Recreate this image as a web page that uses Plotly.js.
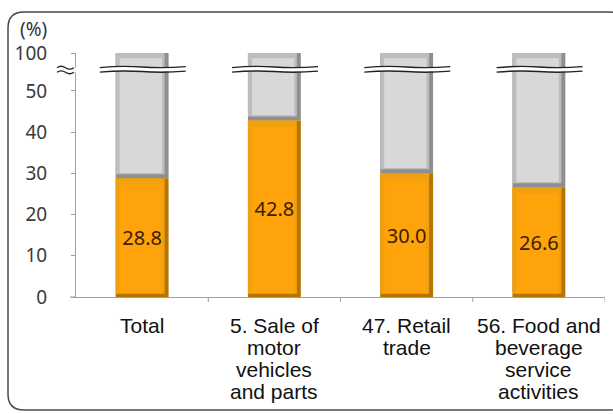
<!DOCTYPE html>
<html>
<head>
<meta charset="utf-8">
<script src="https://cdn.plot.ly/plotly-3.0.1.min.js"></script>
<style>html,body{margin:0;padding:0;background:#fff;}#chart{width:613px;height:414px;}</style>
</head>
<body>
<div id="chart"></div>
<script>
// ---- data ----
const categories = ["Total", "5. Sale of<br>motor<br>vehicles<br>and parts", "47. Retail<br>trade", "56. Food and<br>beverage<br>service<br>activities"];
const shares = [28.8, 42.8, 30.0, 26.6];
const totalValue = 100;
const tickValues = [0, 10, 20, 30, 40, 50, 100];
const tickLabels = ["0", "10", "20", "30", "40", "50", "100"];

// broken axis: 0-50 linear, 50-100 compressed
const BREAK_LOW = 50;
const COMPRESS = 9.2 / 50;
function disp(v) { return v <= BREAK_LOW ? v : BREAK_LOW + (v - BREAK_LOW) * COMPRESS; }
const TOP = disp(totalValue);
const BREAK_Y = 55.2;

const xs = categories.map((c, i) => i);
const outerW = 0.4, innerW = 0.34;

const traces = [
  // gray part (remainder up to 100), with a simple bevel look
  { type: 'bar', x: xs, base: shares.map(disp), y: shares.map(v => TOP - disp(v)), width: outerW,
    marker: { color: '#8f8f8f', line: { width: 0 } }, hoverinfo: 'skip' },
  { type: 'bar', x: xs.map(i => i - 0.015), base: shares.map(v => disp(v) + 1.0), y: shares.map(v => TOP - disp(v) - 1.0), width: 0.37,
    marker: { color: '#bdbdbd', line: { width: 0 } }, hoverinfo: 'skip' },
  { type: 'bar', x: xs.map(i => i - 0.01), base: shares.map(v => disp(v) + 1.3), y: shares.map(v => TOP - disp(v) - 2.6), width: innerW - 0.02,
    marker: { color: '#d8d8d8', line: { width: 0 } }, hoverinfo: 'skip' },
  // orange part (share)
  { type: 'bar', x: xs, base: shares.map(() => 0), y: shares.map(disp), width: outerW,
    marker: { color: '#b87400', line: { width: 0 } }, hoverinfo: 'skip' },
  { type: 'bar', x: xs.map(i => i - 0.015), base: shares.map(() => 0.8), y: shares.map(v => disp(v) - 0.8), width: 0.37,
    marker: { color: '#f0a010', line: { width: 0 } }, hoverinfo: 'skip' },
  { type: 'bar', x: xs.map(i => i - 0.01), base: shares.map(() => 0.9), y: shares.map(v => disp(v) - 2.4), width: innerW - 0.02,
    marker: { color: '#ffa30a', line: { width: 0 } }, hoverinfo: 'skip' },
  // value labels
  { type: 'bar', x: xs, base: shares.map(() => 0), y: shares.map(disp), width: outerW,
    marker: { color: 'rgba(0,0,0,0)', line: { width: 0 } },
    text: shares.map(v => v.toFixed(1)), textposition: 'inside', insidetextanchor: 'middle',
    constraintext: 'none',
    textfont: { family: 'Noto Sans, DejaVu Sans, sans-serif', size: 20, color: '#3a2000' },
    hoverinfo: 'skip' }
];

// shapes: break marks + frame
const shapes = [];
const ax0 = 76, ax1 = 605, ay0 = 297, ay1 = 53;
const px = p => (p - ax0) / (ax1 - ax0);
const py = p => (ay0 - p) / (ay0 - ay1);
// rounded frame
{
  const L = px(8), R = px(625), T = py(12), B = py(410);
  const rx = 16 / (ax1 - ax0), ry = 16 / (ay0 - ay1);
  shapes.push({ type: 'path', xref: 'paper', yref: 'paper', layer: 'below',
    path: `M ${L + rx},${T} L ${R - rx},${T} Q ${R},${T} ${R},${T - ry} L ${R},${B + ry} Q ${R},${B} ${R - rx},${B} L ${L + rx},${B} Q ${L},${B} ${L},${B + ry} L ${L},${T - ry} Q ${L},${T} ${L + rx},${T} Z`,
    line: { color: '#4a4a4a', width: 1.5 }, fillcolor: 'rgba(0,0,0,0)' });
}
// break marks on bars
xs.forEach(i => {
  const a = i - 0.32, b = i + 0.33, m = i;
  shapes.push({ type: 'rect', xref: 'x', yref: 'y', x0: a, x1: b, y0: BREAK_Y - 0.5, y1: BREAK_Y + 0.6,
    fillcolor: '#ffffff', line: { width: 0 } });
  [BREAK_Y + 0.6, BREAK_Y - 0.5].forEach(yy => {
    shapes.push({ type: 'path', xref: 'x', yref: 'y',
      path: `M ${a},${yy - 0.15} Q ${(a + m) / 2},${yy + 0.35} ${m},${yy} T ${b},${yy + 0.1}`,
      line: { color: '#222', width: 1.4 } });
  });
});
// break marks on y axis
{
  const a = px(57), b = px(74), m = (a + b) / 2;
  const yc = py(70), d = 2.3 / (ay0 - ay1);
  shapes.push({ type: 'rect', xref: 'paper', yref: 'paper', x0: a, x1: px(77), y0: yc - d, y1: yc + d,
    fillcolor: '#ffffff', line: { width: 0 } });
  [yc + d, yc - d].forEach(yy => {
    shapes.push({ type: 'path', xref: 'paper', yref: 'paper',
      path: `M ${a},${yy} Q ${(a + m) / 2},${yy + 0.012} ${m},${yy} T ${b},${yy}`,
      line: { color: '#222', width: 1.3 } });
  });
}
// category boundary ticks on x axis
[0.5, 1.5, 2.5, 3.5].forEach(b => {
  shapes.push({ type: 'line', xref: 'x', yref: 'paper', x0: b, x1: b, y0: 0, y1: -5 / (ay0 - ay1),
    line: { color: '#a0a0a0', width: 1 } });
});
shapes.push({ type: 'line', xref: 'paper', yref: 'paper', x0: px(70), x1: 0, y0: 0, y1: 0,
  line: { color: '#a0a0a0', width: 1 } });

// category labels: one annotation per line, tight line spacing
const annotations = [
  { xref: 'paper', yref: 'paper', x: px(33), y: py(29), text: '(%)', showarrow: false,
    xanchor: 'center', yanchor: 'middle',
    font: { family: 'Noto Sans, DejaVu Sans, sans-serif', size: 19, color: '#333' } }
];
categories.forEach((c, i) => {
  c.split('<br>').forEach((line, j) => {
    annotations.push({ xref: 'x', yref: 'paper', x: i, y: py(325 + 22 * j), text: line, showarrow: false,
      xanchor: 'center', yanchor: 'middle',
      font: { family: 'Liberation Sans, Arial, sans-serif', size: 21, color: '#111' } });
  });
});

const layout = {
  width: 613, height: 414,
  margin: { l: 76, r: 8, t: 53, b: 117 },
  paper_bgcolor: '#ffffff', plot_bgcolor: '#ffffff',
  barmode: 'overlay', showlegend: false,
  xaxis: {
    type: 'linear', range: [-0.5, 3.5], tickvals: xs, showticklabels: false,
    showgrid: false, zeroline: false, showline: true, linecolor: '#a0a0a0', linewidth: 1,
    ticks: '', fixedrange: true
  },
  yaxis: {
    range: [0, TOP], tickvals: tickValues.map(disp), ticktext: tickLabels,
    showgrid: false, zeroline: false, showline: true, linecolor: '#a0a0a0', linewidth: 1,
    ticks: 'outside', ticklen: 4, tickcolor: '#a0a0a0', ticklabelstandoff: 20,
    tickfont: { family: 'Noto Sans, DejaVu Sans, sans-serif', size: 19, color: '#3a3a3a' }
  },
  shapes: shapes,
  annotations: annotations
};

Plotly.newPlot('chart', traces, layout, { staticPlot: true, displayModeBar: false });
</script>
</body>
</html>
